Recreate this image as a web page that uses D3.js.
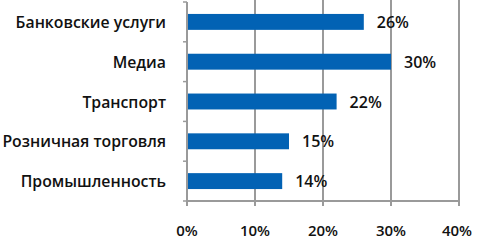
<!DOCTYPE html>
<html><head><meta charset="utf-8">
<script src="https://cdn.jsdelivr.net/npm/d3@7"></script>
<style>body{margin:0;background:#fff}svg{display:block}</style>
</head><body>
<svg id="c" width="477" height="241"></svg>
<script>
const categories = ["Банковские услуги","Медиа","Транспорт","Розничная торговля","Промышленность"];
const values = [26, 30, 22, 15, 14];
const tickValues = [0, 10, 20, 30, 40];
const tickLabels = ["0%","10%","20%","30%","40%"];

(function(){
const svg = d3.select("#c");
const mLeft = 187, mRight = 459, mTop = 2, mBottom = 201;
const font = "'Open Sans', sans-serif";
const x = d3.scaleLinear().domain([0, 40]).range([mLeft, mRight]);
const y = d3.scaleBand().domain(categories).range([mTop, mBottom]).paddingInner(0.6).paddingOuter(0.3);
const yb = d3.scaleBand().domain(categories).range([mTop, mBottom]);

svg.append("g").selectAll("line").data(tickValues.slice(1)).join("line")
  .attr("x1", d => x(d)).attr("x2", d => x(d)).attr("y1", 0).attr("y2", mBottom)
  .attr("stroke", "#9a9a9a").attr("stroke-width", 2);

svg.append("g").selectAll("rect").data(values).join("rect")
  .attr("x", x(0)).attr("y", (d, i) => y(categories[i]))
  .attr("width", d => x(d) - x(0)).attr("height", y.bandwidth())
  .attr("fill", "#0262b4");

const ya = svg.append("g");
ya.append("line").attr("x1", mLeft).attr("x2", mLeft).attr("y1", mTop).attr("y2", mBottom).attr("stroke", "#9a9a9a").attr("stroke-width", 2);
const yticks = categories.map(c => yb(c)).concat([mBottom]);
ya.selectAll("line.t").data(yticks).join("line").attr("class","t")
  .attr("x1", mLeft - 4).attr("x2", mLeft).attr("y1", d => d).attr("y2", d => d)
  .attr("stroke", "#9a9a9a").attr("stroke-width", 1.5);
ya.selectAll("text").data(categories).join("text")
  .attr("x", 166).attr("y", c => yb(c) + yb.bandwidth()/2)
  .attr("text-anchor", "end").attr("dominant-baseline", "central")
  .attr("font-family", font).attr("font-size", 15.8).attr("font-weight", 600).attr("fill", "#111")
  .text(d => d);

const xa = svg.append("g");
xa.append("line").attr("x1", mLeft).attr("x2", mRight).attr("y1", mBottom).attr("y2", mBottom).attr("stroke", "#9a9a9a").attr("stroke-width", 2);
xa.selectAll("line.t").data(tickValues).join("line").attr("class","t")
  .attr("x1", d => x(d)).attr("x2", d => x(d)).attr("y1", mBottom).attr("y2", mBottom + 5)
  .attr("stroke", "#9a9a9a").attr("stroke-width", 2);
xa.selectAll("text").data(tickValues).join("text")
  .attr("x", (d, i) => i === tickValues.length - 1 ? x(d) - 2 : x(d)).attr("y", 230)
  .attr("text-anchor", "middle").attr("dominant-baseline", "central")
  .attr("font-family", font).attr("font-size", 15).attr("font-weight", 600).attr("fill", "#111")
  .text((d, i) => tickLabels[i]);

svg.append("g").selectAll("text").data(values).join("text")
  .attr("x", d => x(d) + 13).attr("y", (d, i) => y(categories[i]) + y.bandwidth()/2)
  .attr("dominant-baseline", "central")
  .attr("font-family", font).attr("font-size", 16).attr("font-weight", 600).attr("fill", "#111")
  .text(d => d + "%");
})();
</script>
</body></html>
